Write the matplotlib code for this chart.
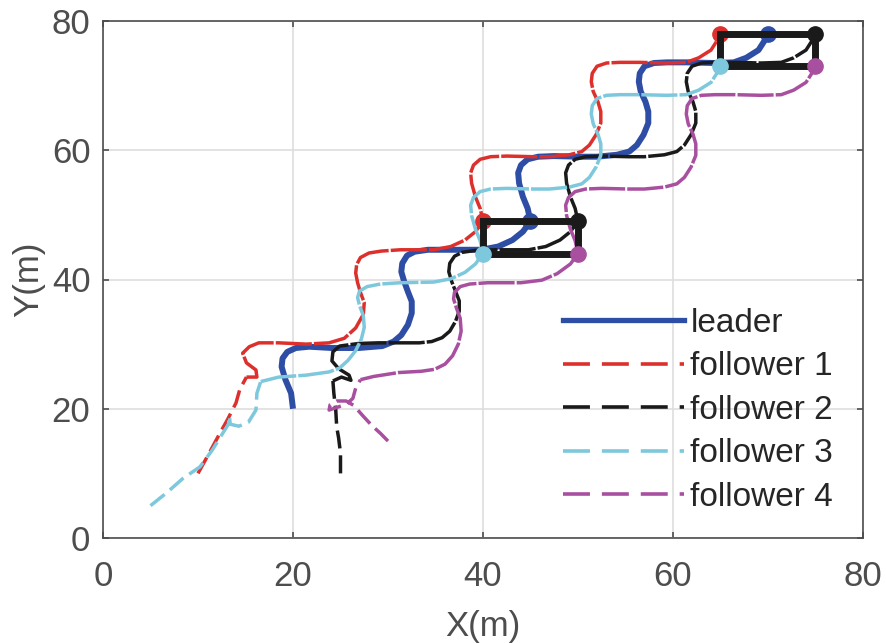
import matplotlib
matplotlib.use("Agg")
import matplotlib.pyplot as plt
from matplotlib.lines import Line2D

plt.rcParams['font.family'] = ['Liberation Sans', 'DejaVu Sans']
plt.rcParams['lines.scale_dashes'] = False

# trajectories (m)
leader_x = [20.0, 19.8, 19.2, 18.8, 18.9, 19.4, 20.3, 21.7, 24.1, 26.9, 29.4, 30.6, 31.4, 32.1,
            32.5, 32.5, 32.1, 31.7, 31.4, 31.5, 32.0, 32.8, 34.2, 36.3, 39.8, 41.6, 43.1, 44.2,
            45.0, 44.7, 44.2, 43.8, 43.7, 44.0, 44.7, 45.8, 47.5, 50.3, 52.0, 54.1, 55.4, 56.2,
            56.9, 57.4, 57.4, 57.1, 56.6, 56.4, 56.5, 57.0, 58.0, 59.4, 61.5, 64.3, 66.4, 67.7,
            69.0, 69.7, 70.0]
leader_y = [20.0, 22.4, 24.5, 26.5, 27.8, 28.8, 29.4, 29.6, 29.4, 29.4, 29.7, 30.4, 31.4, 33.0,
            34.8, 36.6, 38.1, 39.7, 41.2, 42.5, 43.7, 44.3, 44.6, 44.6, 44.6, 45.1, 46.1, 47.4,
            49.0, 51.0, 52.8, 54.9, 56.5, 57.7, 58.6, 59.0, 59.1, 59.0, 59.0, 59.3, 59.8, 60.8,
            62.4, 64.2, 66.0, 67.5, 69.1, 70.6, 71.9, 73.0, 73.5, 73.6, 73.6, 73.5, 73.6, 74.3,
            75.5, 77.1, 78.0]

f1_x = [10.0, 11.2, 12.3, 13.1, 14.0, 14.4, 15.1, 16.2, 16.1, 15.1, 14.7, 15.4, 16.4, 18.5, 21.4,
        23.8, 25.4, 26.6, 27.4, 27.5, 27.1, 26.8, 26.6, 26.7, 27.1, 28.0, 29.3, 31.3, 34.8, 36.6,
        38.1, 39.2, 40.0, 39.7, 39.2, 38.8, 38.7, 39.0, 39.7, 40.8, 42.5, 45.3, 47.0, 49.1, 50.4,
        51.2, 51.9, 52.4, 52.4, 52.1, 51.6, 51.4, 51.5, 52.0, 53.0, 54.4, 56.5, 59.3, 61.4, 62.7,
        64.0, 64.7, 65.0]
f1_y = [10.0, 13.2, 16.2, 18.3, 20.9, 23.0, 24.9, 24.9, 26.0, 27.1, 28.6, 29.6, 30.2, 30.2, 30.0,
        30.2, 30.9, 32.5, 34.6, 36.4, 38.0, 39.5, 41.0, 42.3, 43.4, 44.1, 44.4, 44.6, 44.6, 45.1,
        46.1, 47.4, 49.0, 51.0, 52.8, 54.9, 56.5, 57.7, 58.6, 59.0, 59.1, 59.0, 59.0, 59.3, 59.8,
        60.8, 62.4, 64.2, 66.0, 67.5, 69.1, 70.6, 71.9, 73.0, 73.5, 73.6, 73.6, 73.5, 73.6, 74.3,
        75.5, 77.1, 78.0]

f2_x = [25.0, 25.0, 24.8, 24.6, 24.5, 24.3, 24.2, 25.1, 26.1, 25.9, 24.8, 24.1, 24.2, 24.9, 26.9,
        29.0, 31.1, 33.3, 34.6, 35.7, 36.5, 37.1, 37.5, 37.5, 37.1, 36.7, 36.4, 36.5, 37.0, 37.8,
        39.2, 41.3, 44.8, 46.6, 48.1, 49.2, 50.0, 49.7, 49.2, 48.8, 48.7, 49.0, 49.7, 50.8, 52.5,
        55.3, 57.0, 59.1, 60.4, 61.2, 61.9, 62.4, 62.4, 62.1, 61.6, 61.4, 61.5, 62.0, 63.0, 64.4,
        66.5, 69.3, 71.4, 72.7, 74.0, 74.7, 75.0]
f2_y = [10.0, 13.1, 15.5, 17.2, 19.8, 22.4, 24.3, 24.9, 24.4, 25.2, 26.2, 27.4, 28.8, 29.7, 30.1,
        30.2, 30.2, 30.2, 30.4, 31.0, 32.0, 33.5, 35.1, 36.7, 38.2, 39.7, 41.2, 42.5, 43.6, 44.2,
        44.5, 44.6, 44.6, 45.1, 46.1, 47.4, 49.0, 51.0, 52.8, 54.9, 56.5, 57.7, 58.6, 59.0, 59.1,
        59.0, 59.0, 59.3, 59.8, 60.8, 62.4, 64.2, 66.0, 67.5, 69.1, 70.6, 71.9, 73.0, 73.5, 73.6,
        73.6, 73.5, 73.6, 74.3, 75.5, 77.1, 78.0]

f3_x = [5.0, 6.7, 8.4, 10.2, 11.5, 12.6, 13.2, 13.3, 13.4, 14.3, 15.3, 16.1, 16.2, 16.6, 18.5,
        21.4, 23.8, 24.9, 25.8, 26.6, 27.2, 27.5, 27.4, 27.0, 26.8, 27.0, 27.8, 29.2, 31.3, 34.8,
        36.6, 38.1, 39.2, 40.0, 39.7, 39.2, 38.8, 38.7, 39.0, 39.7, 40.8, 42.5, 45.3, 47.0, 49.1,
        50.4, 51.2, 51.9, 52.4, 52.4, 52.1, 51.6, 51.4, 51.5, 52.0, 53.0, 54.4, 56.5, 59.3, 61.4,
        62.7, 64.0, 64.7, 65.0]
f3_y = [5.0, 7.0, 9.2, 11.0, 13.6, 16.2, 17.6, 18.9, 17.6, 17.3, 17.9, 19.8, 22.4, 24.2, 24.9,
        25.2, 25.7, 26.3, 27.5, 29.0, 30.8, 32.6, 34.4, 36.0, 37.2, 38.2, 38.9, 39.3, 39.5, 39.6,
        40.1, 41.1, 42.4, 44.0, 46.0, 47.8, 49.9, 51.5, 52.7, 53.6, 54.0, 54.1, 54.0, 54.0, 54.3,
        54.8, 55.8, 57.4, 59.2, 61.0, 62.5, 64.1, 65.6, 66.9, 68.0, 68.5, 68.6, 68.6, 68.5, 68.6,
        69.3, 70.5, 72.1, 73.0]

f4_x = [30.0, 29.2, 28.3, 27.3, 26.4, 25.6, 24.6, 23.9, 23.8, 24.6, 25.6, 26.3, 26.6, 27.1, 28.5,
        31.1, 33.5, 34.9, 36.0, 36.8, 37.4, 37.7, 37.6, 37.2, 36.9, 37.0, 37.6, 38.6, 40.5, 44.0,
        46.2, 47.8, 49.2, 50.0, 49.7, 49.2, 48.8, 48.7, 49.0, 49.7, 50.8, 52.5, 55.3, 57.0, 59.1,
        60.4, 61.2, 61.9, 62.4, 62.4, 62.1, 61.6, 61.4, 61.5, 62.0, 63.0, 64.4, 66.5, 69.3, 71.4,
        72.7, 74.0, 74.7, 75.0]
f4_y = [15.0, 16.2, 17.4, 19.0, 20.5, 21.2, 21.2, 20.6, 19.8, 20.2, 20.7, 21.6, 23.2, 24.5, 25.0,
        25.6, 25.8, 26.1, 26.9, 28.2, 30.0, 32.0, 34.0, 35.6, 37.0, 38.0, 38.9, 39.3, 39.5, 39.5,
        39.9, 40.9, 42.4, 44.0, 46.0, 47.8, 49.9, 51.5, 52.7, 53.6, 54.0, 54.1, 54.0, 54.0, 54.3,
        54.8, 55.8, 57.4, 59.2, 61.0, 62.5, 64.1, 65.6, 66.9, 68.0, 68.5, 68.6, 68.6, 68.5, 68.6,
        69.3, 70.5, 72.1, 73.0]

# index where each follower joins the formation
approach_end = [6, 6, 13, 13]

# formation snapshots
snap_leader_x, snap_leader_y = [45, 70], [49, 78]
snap_f1_x, snap_f1_y = [40, 65], [49, 78]
snap_f2_x, snap_f2_y = [50, 75], [49, 78]
snap_f3_x, snap_f3_y = [40, 65], [44, 73]
snap_f4_x, snap_f4_y = [50, 75], [44, 73]

labels = ['leader', 'follower 1', 'follower 2', 'follower 3', 'follower 4']
c_lead = '#2E4DA4'
c_fol = ['#DD302C', '#1A1A1A', '#7DC8DC', '#A8509F']
axis_col = '#4D4D4D'

fig = plt.figure(figsize=(8.87, 6.43), dpi=100)
ax = fig.add_axes([103 / 887, 1 - 538 / 643, 760 / 887, 517 / 643])

ax.plot(leader_x, leader_y, color=c_lead, lw=4.3, solid_capstyle='butt',
        solid_joinstyle='round', zorder=2)

fol = [(f1_x, f1_y), (f2_x, f2_y), (f3_x, f3_y), (f4_x, f4_y)]
for i, (fx, fy) in enumerate(fol):
    k = approach_end[i]
    ax.plot(fx[:k + 1], fy[:k + 1], color=c_fol[i], lw=2.5, dashes=(13, 5),
            dash_capstyle='butt', dash_joinstyle='round', zorder=2.2 + 0.1 * i)
    ax.plot(fx[k:], fy[k:], color=c_fol[i], lw=2.5, dashes=(26, 1.5),
            dash_capstyle='butt', dash_joinstyle='round', zorder=2.2 + 0.1 * i)

ms = 11
ax.plot(snap_f1_x, snap_f1_y, 'o', color=c_fol[0], ms=ms, zorder=3)
ax.plot(snap_leader_x, snap_leader_y, 'o', color=c_lead, ms=ms, zorder=3)
ax.plot(snap_f2_x, snap_f2_y, 'o', color=c_fol[1], ms=ms, zorder=3)

# formation boxes: f3 -> f4 -> f2 -> f1 -> f3
for j in range(2):
    bx = [snap_f3_x[j], snap_f4_x[j], snap_f2_x[j], snap_f1_x[j], snap_f3_x[j]]
    by = [snap_f3_y[j], snap_f4_y[j], snap_f2_y[j], snap_f1_y[j], snap_f3_y[j]]
    ax.plot(bx, by, color='#1A1A1A', lw=5, solid_joinstyle='miter', zorder=4)

ax.plot(snap_f3_x, snap_f3_y, 'o', color=c_fol[2], ms=ms, zorder=5)
ax.plot(snap_f4_x, snap_f4_y, 'o', color=c_fol[3], ms=ms, zorder=5)

ax.set_xlim(0, 80)
ax.set_ylim(0, 80)
ax.set_xticks([0, 20, 40, 60, 80])
ax.set_yticks([0, 20, 40, 60, 80])
ax.grid(True, color='#DEDEDE', lw=1.2)
ax.set_axisbelow(True)
for s in ax.spines.values():
    s.set_color(axis_col)
    s.set_linewidth(1.2)
ax.tick_params(direction='in', length=4, width=1.2, color=axis_col, labelcolor=axis_col,
               labelsize=25, top=True, right=True)
ax.tick_params(axis='x', pad=16)
ax.tick_params(axis='y', pad=9)
ax.set_xlabel('X(m)', fontsize=25, color=axis_col, labelpad=12)
ax.set_ylabel('Y(m)', fontsize=25, color=axis_col, labelpad=5)

handles = [Line2D([], [], color=c_lead, lw=3.8)]
for c in c_fol:
    handles.append(Line2D([], [], color=c, lw=2.6, dashes=(19.4, 8.6), dash_capstyle='butt'))
leg = ax.legend(handles, labels, loc='upper left', bbox_to_anchor=(0.605, 0.445),
                frameon=False, fontsize=24, handlelength=3.63, handletextpad=0.2,
                labelspacing=0.375, borderpad=0, borderaxespad=0)
for t in leg.get_texts():
    t.set_color('#262626')

fig.savefig('out.png', dpi=100)
